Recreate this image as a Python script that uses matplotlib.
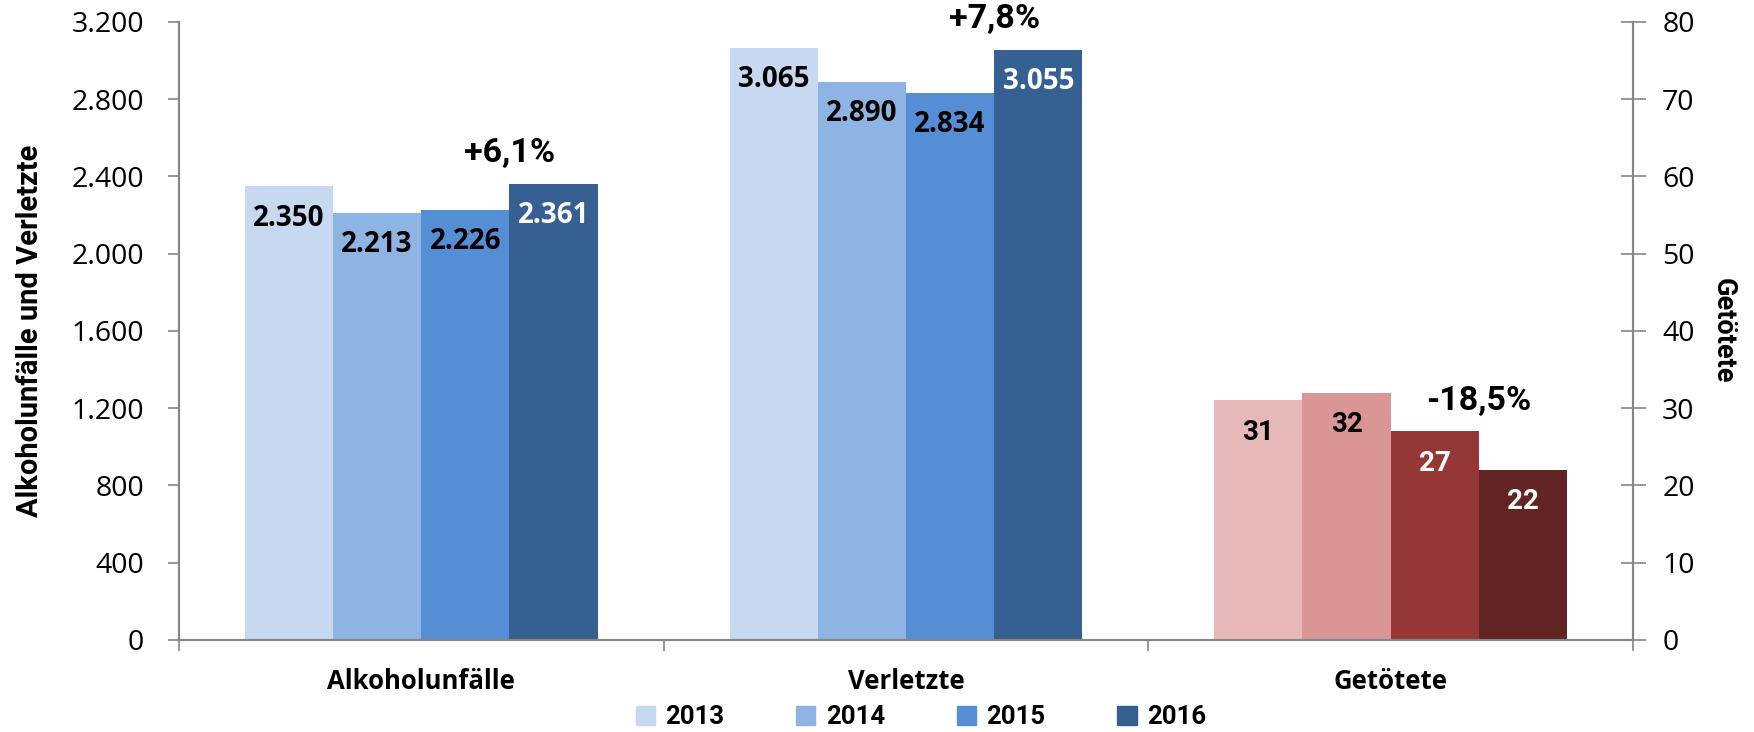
import numpy as np
import matplotlib.pyplot as plt
from matplotlib.patches import Patch

kategorien = ['Alkoholunfälle', 'Verletzte', 'Getötete']
jahre = ['2013', '2014', '2015', '2016']
alkoholunfaelle = [2350, 2213, 2226, 2361]
verletzte = [3065, 2890, 2834, 3055]
getoetete = [31, 32, 27, 22]
veraenderung = ['+6,1%', '+7,8%', '-18,5%']

blau = ['#C6D9F1', '#8EB4E3', '#558ED5', '#376092']
rot = ['#E6B9B8', '#D99694', '#953735', '#632523']
grau = '#868686'
font = ['Roboto', 'DejaVu Sans']
font2 = ['Open Sans', 'DejaVu Sans']

def fmt(v):
    return f"{v:,}".replace(',', '.')

fig = plt.figure(figsize=(17.54, 7.32), dpi=100)
ax = fig.add_axes([0.102, 0.126, 0.829, 0.844])
ax2 = ax.twinx()

x = np.arange(len(kategorien))
w = 0.182

# linke Achse: Alkoholunfälle und Verletzte
for i in range(4):
    xs = x[:2] + (i - 1.5) * w
    vals = [alkoholunfaelle[i], verletzte[i]]
    ax.bar(xs, vals, w, color=blau[i], zorder=2)
    for xi, v in zip(xs, vals):
        ax.annotate(fmt(v), (xi, v), xytext=(0, -23), textcoords='offset points',
                    ha='center', va='center', fontsize=20, fontweight='bold',
                    color='white' if i == 3 else 'black', family=font2)

# rechte Achse: Getötete
for i in range(4):
    xi = x[2] + (i - 1.5) * w
    ax2.bar(xi, getoetete[i], w, color=rot[i], zorder=2)
    ax2.annotate(str(getoetete[i]), (xi, getoetete[i]), xytext=(0, -23),
                 textcoords='offset points', ha='center', va='center', fontsize=20,
                 fontweight='bold', color='white' if i >= 2 else 'black', family=font)

# Veränderung 2013 -> 2016
for k, (serie, a) in enumerate([(alkoholunfaelle, ax), (verletzte, ax), (getoetete, ax2)]):
    top = max(serie[2], serie[3])
    a.annotate(veraenderung[k], (x[k] + w, top), xytext=(0, 22), textcoords='offset points',
               ha='center', va='center', fontsize=24.5, fontweight='bold', family=font)

ax.set_xlim(-0.5, 2.5)
ax.set_ylim(0, 3200)
ax2.set_ylim(0, 80)
ax.set_yticks(np.arange(0, 3201, 400))
ax.set_yticklabels([fmt(v) for v in range(0, 3201, 400)], fontsize=20.5, family=font2)
ax2.set_yticks(np.arange(0, 81, 10))
ax2.set_yticklabels([str(v) for v in range(0, 81, 10)], fontsize=20.5, family=font2)

ax.set_xticks(x)
ax.set_xticklabels(kategorien, fontsize=18.5, fontweight='bold', family=font2)
ax.set_xticks([-0.5, 0.5, 1.5, 2.5], minor=True)
ax.tick_params(axis='x', which='major', length=0, pad=20)
ax.tick_params(axis='x', which='minor', length=8, color=grau, width=1.2)
ax.tick_params(axis='y', length=8, color=grau, width=1.2, pad=17)
ax2.tick_params(axis='y', direction='inout', length=18, color=grau, width=1.2, pad=12)

for a in (ax, ax2):
    a.spines['top'].set_visible(False)
    for s in ('left', 'right', 'bottom'):
        a.spines[s].set_color(grau)
        a.spines[s].set_linewidth(1.5)

ax.set_ylabel('Alkoholunfälle und Verletzte', fontsize=21, fontweight='bold', family=font, labelpad=20)
ax2.set_ylabel('Getötete', fontsize=19.5, fontweight='bold', family=font, rotation=270, labelpad=30)

handles = [Patch(color=c) for c in blau]
leg = fig.legend(handles, jahre, loc='center', bbox_to_anchor=(0.525, 0.02), ncol=4, frameon=False,
                 prop={'family': font, 'weight': 'bold', 'size': 18.5}, handlelength=0.75,
                 handleheight=0.75, handletextpad=0.4, columnspacing=2.8)

fig.savefig('out.png', dpi=100)
